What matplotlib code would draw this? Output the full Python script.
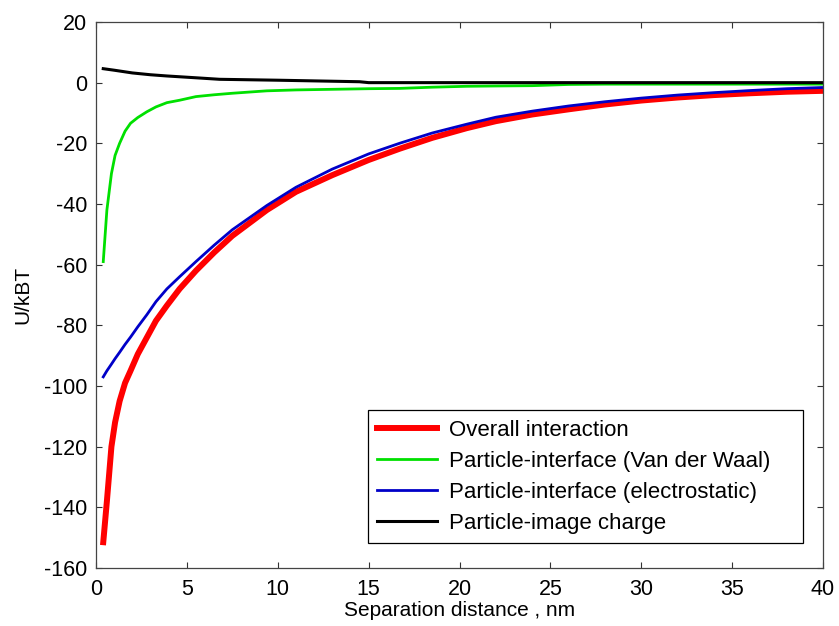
import matplotlib
matplotlib.use("Agg")
import matplotlib.pyplot as plt

plt.rcParams['font.family'] = ['Liberation Sans', 'DejaVu Sans']
plt.rcParams['axes.unicode_minus'] = False

# Data
x_main = [0.4, 0.6, 0.85, 1.05, 1.3, 1.6, 1.9, 2.3, 2.8, 3.3, 3.9, 4.6, 5.5, 6.5, 7.5, 9.4, 11, 13, 15, 16.7, 18.5, 20.4, 22, 24, 26, 28, 30, 32, 34, 36, 38, 40]
overall = [-151.5, -138, -120, -112, -105, -99, -95, -89.5, -84, -78.5, -73.5, -68, -62, -56, -50.5, -42, -36, -30.5, -25.5, -21.8, -18.2, -15, -12.7, -10.5, -8.8, -7.2, -5.9, -4.9, -4.1, -3.5, -3.0, -2.7]
vdw = [-59, -42, -30, -24, -20, -16, -13.4, -11.5, -9.6, -8.0, -6.6, -5.8, -4.6, -4.0, -3.5, -2.7, -2.4, -2.2, -2.0, -1.9, -1.5, -1.2, -1.1, -1.0, -0.6, -0.5, -0.5, -0.5, -0.5, -0.5, -0.5, -0.5]
electro = [-97, -95, -92.8, -91, -88.9, -86.3, -83.9, -80.5, -76.5, -72.2, -68, -64, -59, -53.6, -48.5, -40.5, -34.5, -28.5, -23.5, -20, -16.6, -13.7, -11.4, -9.4, -7.7, -6.3, -5.1, -4.1, -3.3, -2.6, -2.0, -1.6]
x_image = [0.4, 1, 2, 3, 3.9, 5.5, 6.8, 10, 14.5, 15, 40]
image = [4.6, 4.1, 3.2, 2.6, 2.2, 1.6, 1.1, 0.8, 0.3, 0.0, 0.0]

labels = ['Overall interaction', 'Particle-interface (Van der Waal)',
          'Particle-interface (electrostatic)', 'Particle-image charge']
xticks = [0, 5, 10, 15, 20, 25, 30, 35, 40]
yticks = [20, 0, -20, -40, -60, -80, -100, -120, -140, -160]

fig = plt.figure(figsize=(8.39, 6.26), dpi=100)
ax = fig.add_axes([0.1144, 0.0927, 0.8666, 0.8722])

ax.plot(x_main, overall, color='#ff0000', lw=4.3, label=labels[0], solid_joinstyle='round')
ax.plot(x_main, vdw, color='#00e000', lw=2.0, label=labels[1])
ax.plot(x_main, electro, color='#0000c8', lw=2.0, label=labels[2])
ax.plot(x_image, image, color='#000000', lw=2.2, label=labels[3])

ax.set_xlim(0, 40)
ax.set_ylim(-160, 20)
ax.set_xticks(xticks)
ax.set_yticks(yticks)
ax.tick_params(direction='in', top=True, right=True, length=4.5, width=0.8,
               labelsize=15.5, colors='#333333', labelcolor='black')
ax.tick_params(axis='x', pad=8)
ax.tick_params(axis='y', pad=6.5)
for s in ax.spines.values():
    s.set_color('#444444')
    s.set_linewidth(0.9)

ax.set_xlabel('Separation distance , nm', fontsize=15, labelpad=1)
ax.set_ylabel('U/kBT', fontsize=15, labelpad=8)

leg = ax.legend(loc='lower left', bbox_to_anchor=(0.374, 0.0458, 0.598, 0.24),
                mode='expand', borderaxespad=0,
                fontsize=16, fancybox=False, framealpha=1, edgecolor='black',
                handlelength=2.7, labelspacing=0.45, handletextpad=0.55,
                borderpad=0.42)
leg.get_frame().set_linewidth(0.9)

fig.savefig('out.png', dpi=100)
